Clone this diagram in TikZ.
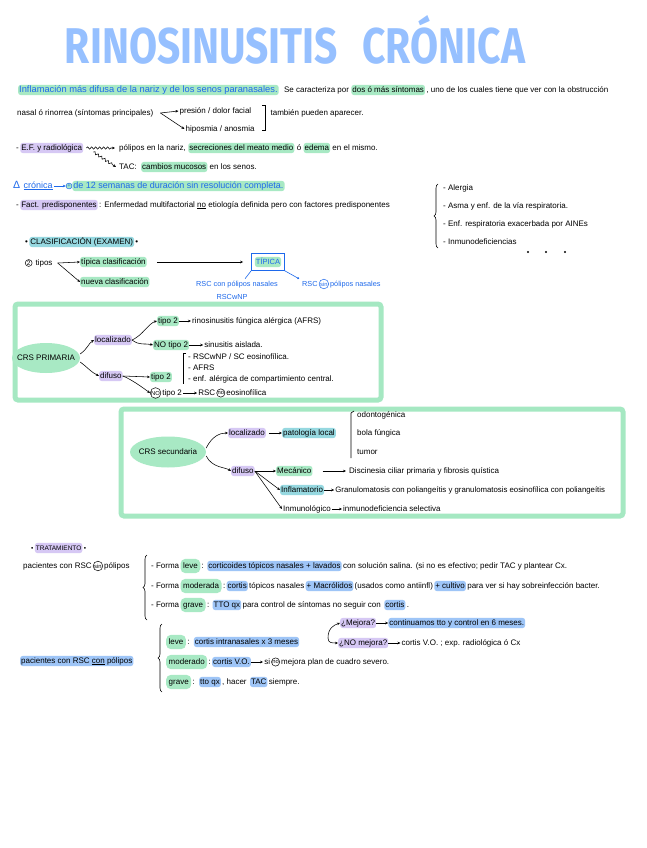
\documentclass[tikz,border=0pt]{standalone}
\usepackage{fontspec}
\setmainfont{Liberation Sans}
\newfontfamily\titlefont{Fira Sans}
\usetikzlibrary{arrows.meta,shapes.geometric,decorations.pathreplacing,decorations.pathmorphing,fit}
\definecolor{hgreen}{RGB}{168,233,196}
\definecolor{gboxc}{RGB}{165,232,194}
\definecolor{hblue}{RGB}{158,197,247}
\definecolor{hpurple}{RGB}{214,200,244}
\definecolor{hteal}{RGB}{150,216,224}
\definecolor{tblue}{RGB}{30,105,235}
\definecolor{ttl}{RGB}{150,192,255}
\newcommand\nfs{\fontsize{8}{9}\selectfont}
\newcommand\bfs{\fontsize{9}{10}\selectfont}
\begin{document}
\begin{tikzpicture}[x=1pt,y=-1pt,
 txt/.style={anchor=west, inner xsep=1pt, inner ysep=1.2pt, text height=5.9pt, text depth=1.8pt, font=\nfs, text=black},
 bl/.style={text=tblue},
 hlg/.style={fill=hgreen, rounded corners=2.5pt},
 hlb/.style={fill=hblue, rounded corners=2.5pt},
 hlp/.style={fill=hpurple, rounded corners=2.5pt},
 hlt/.style={fill=hteal, rounded corners=2.5pt},
 hle/.style={fill=hgreen, rounded corners=4.5pt, inner ysep=3.2pt, inner xsep=2.5pt},
 circ/.style={draw, circle, inner sep=0.4pt, line width=0.5pt, font=\fontsize{5.8}{6}\selectfont, anchor=west},
 arr/.style={-{Stealth[length=3pt,width=2.6pt]}, line width=0.55pt},
 gbox/.style={draw=gboxc, line width=5pt, rounded corners=3pt},
 blob/.style={ellipse, fill=hgreen, inner xsep=-6pt, inner ysep=2pt, font=\nfs},
 brc/.style={decorate, decoration={brace,amplitude=4pt}, line width=0.6pt},
 squig/.style={arr, decorate, decoration={snake,amplitude=1.2pt,segment length=4pt,post length=3pt}},
]
\fill[white] (0,0) rectangle (646,848);
\useasboundingbox (0,0) rectangle (646,848);

% title
\node[inner sep=0, text=ttl, font=\titlefont\bfseries] (title) at (295,40) {\resizebox{460pt}{48pt}{RINOSINUSITIS\hspace{0.6em}CRÓNICA}};

% line 1
\node[txt,bl,hlg,font=\fontsize{9.3}{10}\selectfont] (a1) at (18,90) {Inflamación más difusa de la nariz y de los senos paranasales.};
\node[txt] (a2) at ([xshift=4pt]a1.east) {Se caracteriza por};
\node[txt,hlg] (a3) at ([xshift=1pt]a2.east) {dos ó más síntomas};
\node[txt] (a4) at (a3.east) {, uno de los cuales tiene que ver con la obstrucción};

% line 2
\node[txt] (b1) at (16,113) {nasal ó rinorrea (síntomas principales)};
\coordinate (bv) at ([xshift=6pt]b1.east);
\node[txt] (b2) at ([xshift=24pt,yshift=2pt]b1.east) {presión / dolor facial};
\node[txt] (b3) at ([xshift=30pt,yshift=-16pt]b1.east) {hiposmia / anosmia};
\draw[arr] (bv) -- (b2.west);
\draw[arr] (bv) -- (b3.west);
\coordinate (br2top) at ([xshift=10pt,yshift=6pt]b2.east);
\draw[line width=0.6pt] (br2top) -- ++(3,0) -- ++(0,25) -- ++(-3,0);
\node[txt] (b4) at ([xshift=7pt]br2top |- b1) {también pueden aparecer.};

% line 3
\node[txt] (c0) at (15,148) {-};
\node[txt,hlp] (c1) at (c0.east) {E.F. y radiológica};
\node[txt] (c2) at (118,148) {pólipos en la nariz,};
\node[txt,hlg] (c3) at ([xshift=1pt]c2.east) {secreciones del meato medio};
\node[txt] (c4) at ([xshift=1pt]c3.east) {ó};
\node[txt,hlg] (c5) at ([xshift=1pt]c4.east) {edema};
\node[txt] (c6) at ([xshift=1pt]c5.east) {en el mismo.};
% line 4
\node[txt] (d1) at (118,167) {TAC:};
\node[txt,hlg] (d2) at ([xshift=3pt]d1.east) {cambios mucosos};
\node[txt] (d3) at ([xshift=1pt]d2.east) {en los senos.};
\draw[squig] ([xshift=3pt]c1.east) -- ([xshift=-3pt]c2.west);
\draw[squig] ([xshift=10pt,yshift=-4pt]c1.east) -- ([xshift=-2pt]d1.west);

% line 5
\node[txt,bl,font=\fontsize{10.5}{11}\selectfont,text height=7pt] (e0) at (12,186) {Δ};
\node[txt,bl,font=\bfs] (e1) at ([xshift=1pt]e0.east) {\underline{crónica}};
\node[circ,draw=tblue,text=tblue,fill=hgreen] (e2) at ([xshift=12pt]e1.east) {+};
\draw[arr,tblue] (e1.east) -- (e2.west);
\node[txt,bl,hlg,font=\bfs] (e3) at (e2.east) {de 12 semanas de duración sin resolución completa.};

% line 6
\node[txt] (f0) at (15,205) {-};
\node[txt,hlp] (f1) at (f0.east) {Fact. predisponentes};
\node[txt] (f2) at (f1.east) {: Enfermedad multifactorial \underline{no} etiología definida pero con factores predisponentes};
\draw[brc] (438,248) -- (438,184);
\node[txt] (g1) at (442,188) {- Alergia};
\node[txt] (g2) at (442,206) {- Asma y enf. de la vía respiratoria.};
\node[txt] (g3) at (442,224) {- Enf. respiratoria exacerbada por AINEs};
\node[txt] (g4) at (442,242) {- Inmunodeficiencias};
\fill (528,252) circle (1.2);
\fill (546,252) circle (1.2);
\fill (565,252) circle (1.2);

% line 7
\node[txt] (h0) at (24,242) {•};
\node[txt,hlt] (h1) at (h0.east) {CLASIFICACIÓN (EXAMEN)};
\node[txt] (h2) at (h1.east) {•};

% line 8
\node[circ,font=\fontsize{6.5}{7}\selectfont] (i0) at (25,263) {2};
\node[txt] (i1) at ([xshift=2pt]i0.east) {tipos};
\node[txt,hlg] (i2) at (80,262) {típica clasificación};
\node[txt,hlg] (i3) at (80,282) {nueva clasificación};
\coordinate (iv) at ([xshift=4pt]i1.east);
\draw[arr] (iv) -- (i2.west);
\draw[arr] (iv) -- (i3.west);
\node[txt,bl,hlg,anchor=center,font=\fontsize{7.5}{8}\selectfont] (j1) at (268,262) {TÍPICA};
\node[draw=tblue, line width=0.8pt, fit=(j1), inner sep=3.2pt] (jbox) {};
\draw[arr] ([xshift=10pt]i2.east) -- ([xshift=-8pt]jbox.west);
\node[txt,bl,anchor=center,font=\fontsize{7.3}{8}\selectfont] (k1) at (237,284) {RSC con pólipos nasales};
\node[txt,bl,anchor=center,font=\fontsize{7.3}{8}\selectfont] (k2) at (232,297) {RSCwNP};
\node[txt,bl,font=\fontsize{7.3}{8}\selectfont] (k3) at (301,284) {RSC};
\node[circ,draw=tblue,text=tblue] (k4) at (k3.east) {sin};
\node[txt,bl,font=\fontsize{7.3}{8}\selectfont] (k5) at (k4.east) {pólipos nasales};
\draw[tblue,line width=0.6pt] (jbox.south west) -- ([xshift=8pt]k1.north);
\draw[tblue,line width=0.6pt,-{Circle[length=2pt]}] (jbox.south east) -- ([xshift=-2pt]k3.north west);

% box 1
\draw[gbox] (15,304) rectangle (381,400);
\node[blob, minimum width=68pt, minimum height=30pt] (p0) at (46,358) {CRS PRIMARIA};
\node[txt,hlp] (p1) at (94,340) {localizado};
\node[txt,hlp] (p2) at (99,376) {difuso};
\draw[arr] ([yshift=4pt]p0.east) .. controls +(8,-6) and +(-6,4) .. (p1.west);
\draw[arr] ([yshift=-4pt]p0.east) .. controls +(8,6) and +(-8,-4) .. (p2.west);
\node[txt,hlg] (q1) at (157,321) {tipo 2};
\node[txt] (q2) at ([xshift=12pt]q1.east) {rinosinusitis fúngica alérgica (AFRS)};
\draw[arr] (q1.east) -- (q2.west);
\node[txt,hlg] (q3) at (153,345) {NO tipo 2};
\node[txt] (q4) at ([xshift=14pt]q3.east) {sinusitis aislada.};
\draw[arr] (q3.east) -- (q4.west);
\draw[arr] (p1.east) .. controls +(10,-4) and +(-8,2) .. (q1.west);
\draw[arr] (p1.east) .. controls +(8,6) and +(-8,-2) .. (q3.west);
\node[txt,hlg] (r1) at (150,377) {tipo 2};
\draw[arr] (p2.east) -- (r1.west);
\node[circ] (r2) at (150,393) {NO};
\node[txt] (r3) at (r2.east) {tipo 2};
\node[txt] (r4) at ([xshift=14pt]r3.east) {RSC};
\node[circ] (r5) at (r4.east) {no};
\node[txt] (r6) at (r5.east) {eosinofílica};
\draw[arr] (r3.east) -- (r4.west);
\draw[arr] (p2.east) .. controls +(8,3) and +(-8,-6) .. (r2.west);
\draw[line width=0.6pt] (186,353) -- (183,353) -- (183,384);
\node[txt] (s1) at (187,357) {- RSCwNP / SC eosinofílica.};
\node[txt] (s2) at (187,368) {- AFRS};
\node[txt] (s3) at (187,379) {- enf. alérgica de compartimiento central.};

% box 2
\draw[gbox] (121,409) rectangle (623,516);
\node[blob, minimum width=76pt, minimum height=31pt] (u0) at (168,452) {CRS secundaria};
\node[txt,hlp] (u1) at (228,433) {localizado};
\node[txt,hlt] (u2) at ([xshift=16pt]u1.east) {patología local};
\draw[arr] ([xshift=3pt]u1.east) -- (u2.west);
\draw[line width=0.6pt] (354,411) -- (351,413) -- (351,458);
\node[txt] (v1) at (356,415) {odontogénica};
\node[txt] (v2) at (356,433) {bola fúngica};
\node[txt] (v3) at (356,452) {tumor};
\node[txt,hlp] (u3) at (231,471) {difuso};
\draw[arr] ([yshift=4pt]u0.east) .. controls +(6,-12) and +(-8,0) .. (u1.west);
\draw[arr] ([yshift=-4pt]u0.east) .. controls +(6,12) and +(-6,-4) .. (u3.west);
\node[txt,hlg] (w1) at (276,471) {Mecánico};
\node[txt] (w2) at (348,471) {Discinesia ciliar primaria y fibrosis quística};
\draw[arr] ([xshift=10pt]w1.east) -- ([xshift=-2pt]w2.west);
\node[txt,hlt] (w3) at (280,490) {Inflamatorio};
\node[txt,font=\fontsize{7.8}{8}\selectfont] (w4) at ([xshift=10pt]w3.east) {Granulomatosis con poliangeítis y granulomatosis eosinofílica con poliangeítis};
\draw[arr] (w3.east) -- (w4.west);
\node[txt] (w5) at (282,509) {Inmunológico};
\node[txt] (w6) at ([xshift=10pt]w5.east) {inmunodeficiencia selectiva};
\draw[arr] (w5.east) -- (w6.west);
\draw[arr] (u3.east) -- (w1.west);
\draw[arr] (u3.east) -- (w3.west);
\draw[arr] (u3.east) -- (w5.west);

% tratamiento
\node[txt,font=\fontsize{6.5}{7}\selectfont] (x0) at (30,548) {•};
\node[txt,hlp,font=\fontsize{6.5}{7}\selectfont] (x1) at (x0.east) {TRATAMIENTO};
\node[txt,font=\fontsize{6.5}{7}\selectfont] (x2) at (x1.east) {•};
\node[txt] (y1) at (22,566) {pacientes con RSC};
\node[circ] (y2) at (y1.east) {sin};
\node[txt] (y3) at (y2.east) {pólipos};
\draw[brc] (147,620) -- (147,555);
\node[txt] (z1) at (150,566) {- Forma};
\node[txt,hle] (z2) at (z1.east) {leve};
\node[txt] (z3) at (z2.east) {:};
\node[txt,hlb] (z4) at ([xshift=2pt]z3.east) {corticoides tópicos nasales + lavados};
\node[txt] (z5) at (z4.east) {con solución salina. (si no es efectivo; pedir TAC y plantear Cx.};
\node[txt] (z6) at (150,586) {- Forma};
\node[txt,hle] (z7) at (z6.east) {moderada};
\node[txt] (z8) at (z7.east) {:};
\node[txt,hlb] (z9) at (z8.east) {cortis};
\node[txt] (z10) at (z9.east) {tópicos nasales};
\node[txt,hlb] (z11) at (z10.east) {+ Macrólidos};
\node[txt] (z12) at (z11.east) {(usados como antiinfl)};
\node[txt,hlb] (z13) at (z12.east) {+ cultivo};
\node[txt] (z14) at (z13.east) {para ver si hay sobreinfección bacter.};
\node[txt] (z15) at (150,605) {- Forma};
\node[txt,hle] (z16) at (z15.east) {grave};
\node[txt] (z17) at (z16.east) {:};
\node[txt,hlb] (z18) at ([xshift=2pt]z17.east) {TTO qx};
\node[txt] (z19) at (z18.east) {para control de síntomas no seguir con};
\node[txt,hlb] (z20) at ([xshift=2pt]z19.east) {cortis};
\node[txt] (z21) at (z20.east) {.};

\node[txt,hlb] (aa1) at (20,661) {pacientes con RSC \underline{con} pólipos};
\draw[brc] (162,692) -- (162,624);
\node[txt,hle] (ab1) at (166,642) {leve};
\node[txt] (ab2) at (ab1.east) {:};
\node[txt,hlb] (ab3) at ([xshift=3pt]ab2.east) {cortis intranasales x 3 meses};
\coordinate (cv) at (328,638);
\node[txt,hlp] (ac1) at (340,623) {¿Mejora?};
\node[txt,hlb] (ac2) at ([xshift=12pt]ac1.east) {continuamos tto y control en 6 meses.};
\draw[arr] (ac1.east) -- (ac2.west);
\node[txt,hlp] (ad1) at (338,643) {¿NO mejora?};
\node[txt] (ad2) at ([xshift=12pt]ad1.east) {cortis V.O. ; exp. radiológica ó Cx};
\draw[arr] (ad1.east) -- (ad2.west);
\draw[arr] (cv) .. controls +(0,-10) and +(-6,2) .. (ac1.west);
\draw[arr] (cv) .. controls +(0,5) and +(-6,0) .. (ad1.west);
\node[txt,hle] (ae1) at (166,662) {moderado};
\node[txt] (ae2) at (ae1.east) {:};
\node[txt,hlb] (ae3) at (ae2.east) {cortis V.O.};
\node[txt] (ae4) at ([xshift=12pt]ae3.east) {si};
\draw[arr] (ae3.east) -- (ae4.west);
\node[circ] (ae5) at (ae4.east) {no};
\node[txt] (ae6) at (ae5.east) {mejora plan de cuadro severo.};
\node[txt,hle] (af1) at (166,682) {grave};
\node[txt] (af2) at (af1.east) {:};
\node[txt,hlb] (af3) at ([xshift=3pt]af2.east) {tto qx};
\node[txt] (af4) at (af3.east) {, hacer};
\node[txt,hlb] (af5) at ([xshift=2pt]af4.east) {TAC};
\node[txt] (af6) at (af5.east) {siempre.};
\end{tikzpicture}
\end{document}
